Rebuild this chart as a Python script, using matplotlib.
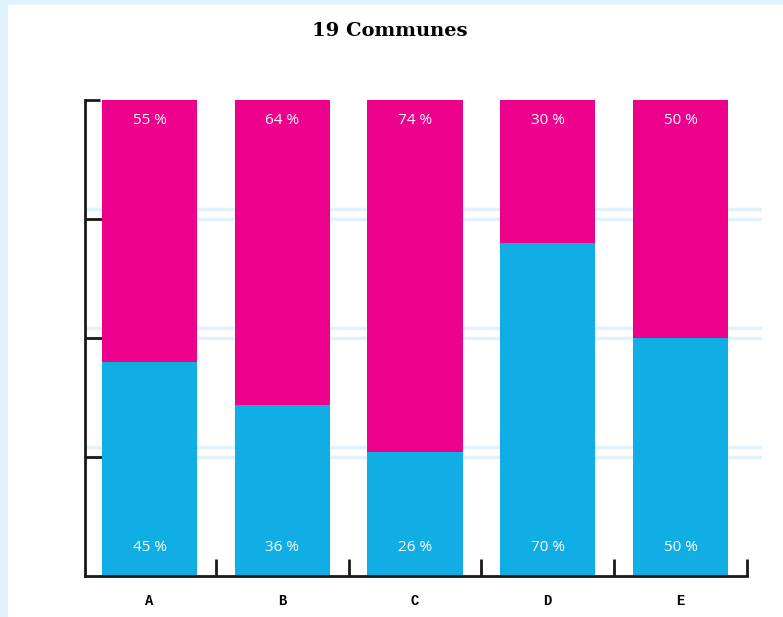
import numpy as np
import matplotlib.pyplot as plt
from matplotlib.patches import Rectangle

categories = ["A", "B", "C", "D", "E"]
lower_pct = [45, 36, 26, 70, 50]
upper_pct = [55, 64, 74, 30, 50]
grid_levels = [25, 50, 75]

CYAN = "#10aee5"
MAGENTA = "#ec008c"
PALE = "#e2f2fb"

fig = plt.figure(figsize=(7.83, 6.17), dpi=100, facecolor=PALE)
# white card inside the pale frame
fig.patches.append(Rectangle((8 / 783, 0), 1, 1 - 5 / 617, transform=fig.transFigure,
                             facecolor="white", edgecolor="none", zorder=-10))

ax = fig.add_axes([85 / 783, 41 / 617, 677 / 783, 476 / 617])
ax.set_zorder(2)
ax.set_facecolor("none")

x = np.arange(len(categories))
w = 0.716
ax.bar(x, lower_pct, width=w, color=CYAN, zorder=3)
ax.bar(x, upper_pct, width=w, bottom=lower_pct, color=MAGENTA, zorder=3)

# doubled pale guide lines
for g in grid_levels:
    for off in (0, 2.1):
        ax.axhline(g + off, color=PALE, lw=2.5, zorder=1)

for xi, lo, up in zip(x, lower_pct, upper_pct):
    ax.text(xi, 5.9, f"{lo} %", color="white", ha="center", va="center",
            fontsize=11, family="Open Sans", zorder=4)
    ax.text(xi, lo + up - 4.4, f"{up} %", color="white", ha="center", va="center",
            fontsize=11, family="Open Sans", zorder=4)

ax.set_xlim(-0.486, 4.614)
ax.set_ylim(0, 100)

for s in ("top", "right"):
    ax.spines[s].set_visible(False)
for s in ("left", "bottom"):
    ax.spines[s].set_linewidth(2)
    ax.spines[s].set_color("#1a1a1a")
    ax.spines[s].set_zorder(5)
ax.spines["bottom"].set_bounds(-0.486, 4.5)

ax.set_xticks(np.arange(0.5, 5, 1))
ax.set_xticklabels([])
ax.tick_params(axis="x", direction="in", length=12, width=2, color="#1a1a1a")
ax.set_yticks(grid_levels)
ax.set_yticklabels([])
ax.tick_params(axis="y", direction="in", length=16, width=2, color="#1a1a1a")
ax.set_yticks([100], minor=True)
ax.tick_params(axis="y", which="minor", direction="in", length=11, width=2,
               color="#1a1a1a")

for xi, c in zip(x, categories):
    ax.text(xi, -5.3, c, ha="center", va="center", fontsize=10,
            family="Liberation Mono", fontweight="bold", clip_on=False)

fig.text(390 / 783, 1 - 31 / 617, "19 Communes", ha="center", va="center",
         fontsize=14, family="DejaVu Serif", fontweight="bold")

fig.savefig("out.png", dpi=100, facecolor=fig.get_facecolor())
